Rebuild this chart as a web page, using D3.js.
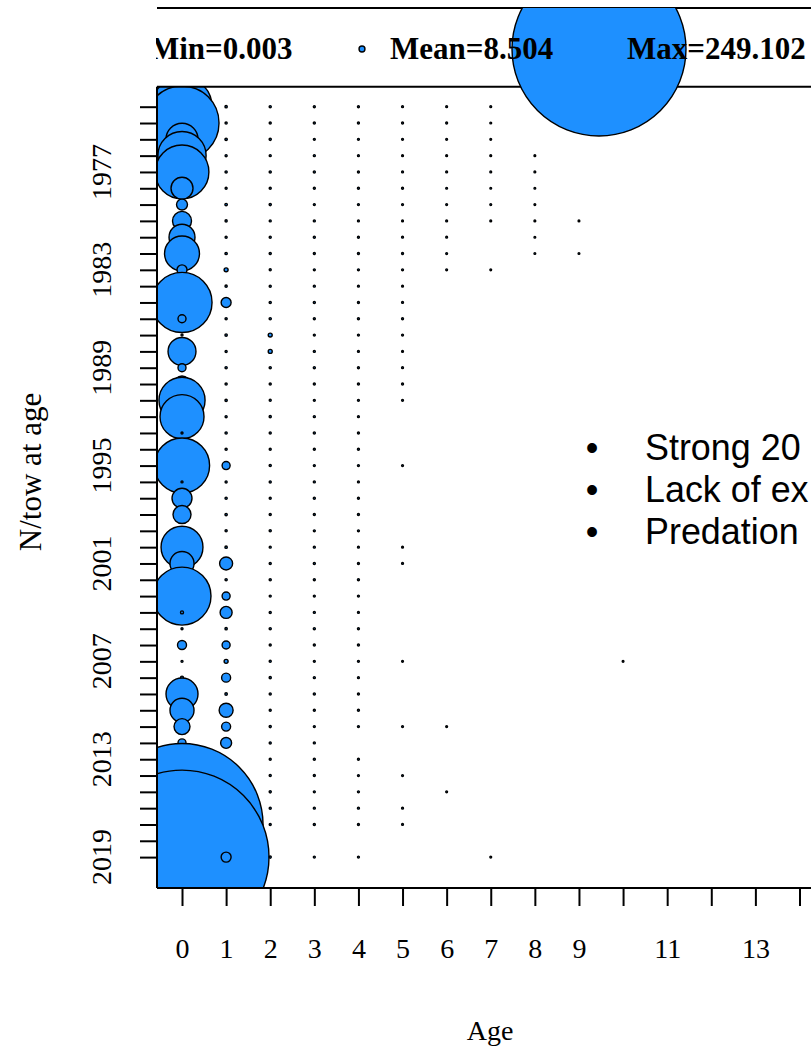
<!DOCTYPE html>
<html>
<head>
<meta charset="utf-8">
<script src="https://cdn.jsdelivr.net/npm/d3@7"></script>
<style>
  body { margin: 0; background: #fff; overflow: hidden; }
  svg { display: block; }
</style>
</head>
<body>
<svg id="chart" width="811" height="1048"></svg>
<script>
// Survey abundance (N/tow) by year and age
const years = d3.range(1973, 2020);
const yearLabels = [1977, 1983, 1989, 1995, 2001, 2007, 2013, 2019];
const ageTicks = d3.range(0, 15);
const ageLabels = [0, 1, 2, 3, 4, 5, 6, 7, 8, 9, 11, 13];

// one value per year, 1973 .. 2019 (null = no catch at that age)
const age0 = [86, 106, 46, 69, 77, 31.5, 15.7, 27.2, 37.2, 50,
              14.3, 11.5, 86, 11.5, 2.9, 40, 11.5, 23, 66, 63,
              2.9, 5.7, 79, 2.9, 28.6, 25.8, 11.5, 60, 34.4, 11.5,
              83, 4.3, 2.9, 12.9, 2.9, 4.3, 45.8, 34.4, 22.9, 11.5,
              17, 28.6, 23, 57, 232, 115, 249.102];
const age1 = [3.3, 3.1, 3.4, 3.0, 3.2, 2.9, 3.5, 3.1, 3.0, 3.3,
              5.7, 3.2, 14.3, 3.1, 3.4, 3.0, 3.2, 3.1, 3.3, 3.0,
              3.2, 3.1, 11.5, 3.0, 3.2, 3.3, 3.1, 3.4, 18.6, 3.2,
              11.5, 17.2, 3.3, 11.5, 5.7, 12.9, 3.5, 20, 12.9, 15.7,
              3.0, 3.5, 3.2, 3.6, 4.5, 3.0, 14.3];
const age2 = [3.1, 3.0, 3.2, 2.9, 3.1, 3.0, 3.2, 2.9, 3.0, 3.1,
              2.9, 3.0, 3.1, 3.2, 5.7, 5.7, 3.1, 3.0, 2.9, 3.1,
              3.0, 2.9, 3.1, 3.0, 2.9, 3.0, 3.1, 2.9, 3.0, 3.1,
              2.9, 3.0, 3.1, 2.9, 3.0, 3.1, 3.0, 2.9, 3.1, 3.0,
              2.9, 3.0, 3.1, 3.0, 2.9, null, 3.1];
const age3 = [2.9, 3.0, 2.8, 2.9, 3.0, 2.9, 2.8, 2.9, 3.0, 2.9,
              2.8, 2.9, 3.0, 2.9, 2.8, 2.9, 3.0, 2.9, 2.8, 2.9,
              3.0, 2.9, 2.8, 2.9, 3.0, 2.9, 2.8, 2.9, 3.0, 2.9,
              2.8, 2.9, 3.0, 2.9, 2.8, 2.9, 3.0, 2.9, 2.8, 2.9,
              3.0, 2.9, 2.8, 2.9, 3.0, null, 2.9];
const age4 = [2.8, 2.9, 2.8, 2.7, 2.8, 2.9, 2.8, 2.7, 2.8, 2.9,
              2.8, 2.7, 2.8, 2.9, 2.8, 2.7, 2.8, 2.9, 2.8, 2.7,
              2.8, 2.9, 2.8, 2.7, 2.8, 2.9, 2.8, 2.7, 2.8, 2.9,
              2.8, 2.7, 2.8, 2.9, 2.8, 2.7, 2.8, 2.9, 2.8, null,
              2.8, 2.7, 2.8, 2.9, 2.8, null, 2.8];
const age5 = [2.7, 2.8, 2.7, 2.6, 2.7, 2.8, 2.7, 2.6, 2.7, 2.8,
              2.7, 2.6, 2.7, 2.8, 2.7, 2.6, 2.7, 2.8, 2.7, null,
              null, null, 2.7, null, null, null, null, 2.6, 2.7, null,
              null, null, null, null, 2.6, null, null, null, 2.7, null,
              null, 2.6, null, 2.7, 2.6, null, null];
const age6 = [2.6, 2.7, 2.6, 2.6, 2.7, 2.6, 2.6, 2.7, 2.6, 2.6,
              2.6, null, null, null, null, null, null, null, null, null,
              null, null, null, null, null, null, null, null, null, null,
              null, null, null, null, null, null, null, null, 2.6, null,
              null, null, 2.6, null, null, null, null];
const age7 = [2.6, 2.6, 2.5, 2.6, 2.6, 2.5, 2.6, 2.6, null, null,
              2.5, null, null, null, null, null, null, null, null, null,
              null, null, null, null, null, null, null, null, null, null,
              null, null, null, null, null, null, null, null, null, null,
              null, null, null, null, null, null, 2.6];
const age8 = [null, null, null, 2.5, 2.6, 2.5, 2.5, 2.6, 2.5, 2.5,
              null, null, null, null, null, null, null, null, null, null,
              null, null, null, null, null, null, null, null, null, null,
              null, null, null, null, null, null, null, null, null, null,
              null, null, null, null, null, null, null];
const age9 = [null, null, null, null, null, null, null, 2.5, null, 2.5,
              null, null, null, null, null, null, null, null, null, null,
              null, null, null, null, null, null, null, null, null, null,
              null, null, null, null, null, null, null, null, null, null,
              null, null, null, null, null, null, null];
const age10 = [null, null, 0.003, null, null, null, null, null, null, null,
               null, null, null, null, null, null, null, null, null, null,
               null, null, null, null, null, null, null, null, null, null,
               null, null, null, null, 2.5, null, null, null, null, null,
               null, null, null, null, null, null, null];
const ageSeries = [age0, age1, age2, age3, age4, age5, age6, age7, age8, age9, age10];

const legendLabels = ["Min=0.003", "Mean=8.504", "Max=249.102"];
const legendValues = [0.003, 8.504, 249.102];
const notes = ["Strong 20", "Lack of ex", "Predation"];

const svg = d3.select("#chart");
const W = 811, H = 1048;
const plot = { left: 157, top: 86.7, bottom: 888, right: 824.5 };

const x = d3.scaleLinear().domain([-0.567, 14.567]).range([plot.left, plot.right]);
const y = d3.scaleLinear().domain([1973, 2019]).range([106.7, 857.1]);
const r = d3.scaleLinear().domain([0, 249.102]).range([0, 87]);

const serif = "'Liberation Serif', 'Times New Roman', serif";
const fill = "#1e90ff";

const defs = svg.append("defs");
defs.append("clipPath").attr("id", "plotClip")
  .append("rect").attr("x", plot.left).attr("y", plot.top)
  .attr("width", plot.right - plot.left).attr("height", plot.bottom - plot.top);
defs.append("clipPath").attr("id", "legendClip")
  .append("rect").attr("x", plot.left - 1).attr("y", 8)
  .attr("width", W).attr("height", H);

// flatten to cells in year order, ages ascending within each year
const cells = [];
years.forEach((yr, i) => {
  ageSeries.forEach((s, a) => {
    if (s[i] != null) cells.push({ year: yr, age: a, value: s[i] });
  });
});

svg.append("g").attr("clip-path", "url(#plotClip)")
  .selectAll("circle").data(cells).join("circle")
  .attr("cx", d => x(d.age))
  .attr("cy", d => y(d.year))
  .attr("r", d => r(d.value))
  .attr("fill", fill)
  .attr("stroke", "#000")
  .attr("stroke-width", 1.4);

// frame lines
const frame = svg.append("g").attr("stroke", "#000").attr("stroke-width", 2);
frame.append("line").attr("x1", plot.left).attr("x2", W).attr("y1", 8).attr("y2", 8);
frame.append("line").attr("x1", plot.left).attr("x2", W).attr("y1", plot.top).attr("y2", plot.top);
frame.append("line").attr("x1", plot.left).attr("x2", plot.left).attr("y1", plot.top).attr("y2", plot.bottom);
frame.append("line").attr("x1", plot.left).attr("x2", W).attr("y1", plot.bottom).attr("y2", plot.bottom);

// legend: circle, then its label drawn over it
const legendCircleX = [128, 362, 599];
const legendTextX = [150, 390, 627];
const legend = svg.append("g").attr("clip-path", "url(#legendClip)");
legend.selectAll("circle").data(legendValues).join("circle")
  .attr("cx", (d, i) => legendCircleX[i]).attr("cy", 49)
  .attr("r", d => r(d))
  .attr("fill", fill).attr("stroke", "#000").attr("stroke-width", 1.4);
legend.selectAll("text").data(legendLabels).join("text")
  .attr("x", (d, i) => legendTextX[i]).attr("y", 59)
  .attr("font-family", serif).attr("font-weight", "bold").attr("font-size", 31)
  .text(d => d);

// x axis
const xAxis = d3.axisBottom(x).tickValues(ageTicks).tickSize(18).tickPadding(32)
  .tickFormat(d => ageLabels.includes(d) ? d : "");
const gx = svg.append("g").attr("transform", `translate(0,${plot.bottom})`).call(xAxis);
gx.select(".domain").remove();
gx.selectAll(".tick line").attr("stroke", "#000").attr("stroke-width", 2);
gx.selectAll(".tick text").attr("font-family", serif).attr("font-size", 28).attr("fill", "#000");

// y axis
const yAxis = d3.axisLeft(y).tickValues(years).tickSize(17).tickFormat("");
const gy = svg.append("g").attr("transform", `translate(${plot.left},0)`).call(yAxis);
gy.select(".domain").remove();
gy.selectAll(".tick line").attr("stroke", "#000").attr("stroke-width", 2);
svg.append("g").selectAll("text").data(yearLabels).join("text")
  .attr("transform", d => `translate(110.5,${y(d)}) rotate(-90)`)
  .attr("text-anchor", "middle")
  .attr("font-family", serif).attr("font-size", 28)
  .text(d => d);

// axis titles
svg.append("text").attr("x", 490).attr("y", 1040).attr("text-anchor", "middle")
  .attr("font-family", serif).attr("font-size", 28).text("Age");
svg.append("text").attr("transform", "translate(41,472) rotate(-90)")
  .attr("text-anchor", "middle").attr("font-family", serif).attr("font-size", 31)
  .text("N/tow at age");

// notes beside the plot
const noteG = svg.append("g");
notes.forEach((t, i) => {
  const by = 460 + i * 42;
  noteG.append("text").attr("x", 592).attr("y", by).attr("text-anchor", "middle")
    .attr("font-family", "'Liberation Sans', Arial, sans-serif").attr("font-size", 36).text("\u2022");
  noteG.append("text").attr("transform", `translate(645,${by}) scale(0.97,1)`)
    .attr("font-family", "'Liberation Sans', Arial, sans-serif").attr("font-size", 37).text(t);
});
</script>
</body>
</html>
